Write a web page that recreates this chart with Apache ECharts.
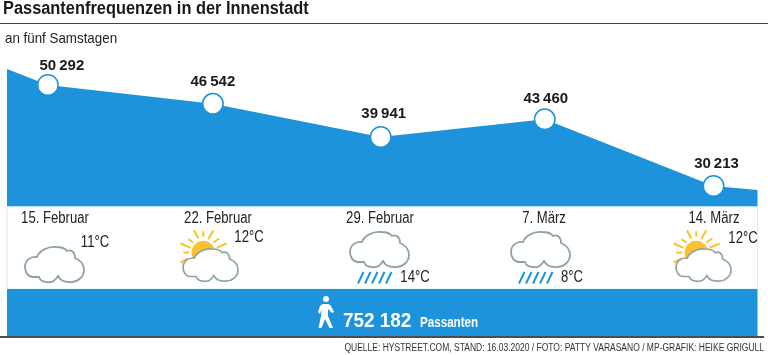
<!DOCTYPE html>
<html>
<head>
<meta charset="utf-8">
<style>
html, body { margin: 0; padding: 0; background: #fff; }
#show { width: 768px; height: 355px; }
</style>
<script src="https://cdn.jsdelivr.net/npm/echarts@6/dist/echarts.min.js"></script>
</head>
<body>
<div id="show"></div>
<script>
var myChart = echarts.init(document.getElementById("show"));

// days since 15 Feb; first and last are the cut-off edges
var days = [-1.72, 0, 6.94, 14, 20.9, 28, 29.85];
var visitors = [53470, 50292, 46542, 39941, 43460, 30213, 29420];
var dates = ["15. Februar", "22. Februar", "29. Februar", "7. März", "14. März"];
var temps = ["11°C", "12°C", "14°C", "8°C", "12°C"];
var weather = ["cloud", "sun", "rain", "rain", "sun"];
var total = "752 182";

var font = "'Liberation Sans', sans-serif";
var blue = "#1c93da";
var cloudGrey = "#8fa3a3";
var yellow = "#fdc12d";

var labelShift = [null, [14, 4], [0, 2], [3, 0], [1, 3], [3, 1], null];
var datePos = [55, 218, 380, 544, 714];
var cloudPos = [[25, 247, 59, 36], [183, 249, 55, 33], [350, 232, 59, 36], [511, 232, 59, 36], [676, 249, 55, 33]];
var tempPos = [[95, 243], [249, 238], [415, 278], [572, 278], [743, 239]];

var cloudPath = "M8 30C3 30 0 25 0 20C0 14 5 9 12 10C14 4 23 -1 31 0C36 0 40 1 42 4C46 2 50 5 50 11C55 13 59 17 59 23C59 30 52 36 44 35C39 35 35 33 33 29C30 34 26 36 22 35C18 35 15 33 14 30C12 30 10 30 8 30Z";
var walkerPath = "M5 8L10 8C11 8 12 9 13 10L16 16L14 17L10 13L10 20L15 32L11.5 32L7 23L3.5 32L0.5 32L3 20L3.5 13L2 18L0 16L2 10C3 9 4 8 5 8Z";
var sunRays = [[-9.3, -22.3, -5, -14], [0, -21.3, 0, -15.7], [10, -22.3, 5, -13.3], [16, -14, 10, -10], [23.3, -9, 13.3, -4.7],
    [-22.7, -9, -12.7, -4.7], [-15, -13.3, -10, -10], [-20, 0, -14, 0], [-22.7, 10, -15, 6]];

echarts.graphic.registerShape("cloud", echarts.graphic.extendPath(cloudPath, {}));
echarts.graphic.registerShape("walker", echarts.graphic.extendPath(walkerPath, {}));

function text(str, x, y, size, color, weight, align, squeeze) {
    return {
        type: "text", z: 10, x: x, y: y, scaleX: squeeze || 0.82,
        style: {
            text: str, x: 0, y: 0, fill: color, font: (weight || "normal") + " " + size + "px " + font,
            textAlign: align || "left", textVerticalAlign: "middle"
        }
    };
}

var shapes = [
    { type: "rect", z: 1, shape: { x: 7, y: 206, width: 750.5, height: 83 }, style: { fill: "#fff", stroke: "#dcebf6", lineWidth: 1 } },
    { type: "rect", z: 2, shape: { x: 7, y: 289, width: 750.5, height: 47 }, style: { fill: blue } },
    { type: "line", z: 3, shape: { x1: 0, y1: 23.5, x2: 768, y2: 23.5 }, style: { stroke: "#444", lineWidth: 1 } },
    { type: "line", z: 3, shape: { x1: 0, y1: 337, x2: 764, y2: 337 }, style: { stroke: "#111", lineWidth: 1.5 } },
    text("Passantenfrequenzen in der Innenstadt", 3, 9, 18, "#1a1a1a", "bold", "left", 0.91),
    text("an fünf Samstagen", 5, 39, 15, "#222", "normal", "left", 0.89),
    { type: "circle", z: 10, shape: { cx: 326, cy: 299, r: 3 }, style: { fill: "#fff" } },
    { type: "walker", z: 10, x: 318, y: 296, style: { fill: "#fff" } },
    text(total, 343, 321, 21, "#fff", "bold", "left", 0.9),
    text("Passanten", 420, 323, 14, "#fff", "bold", "left", 0.83),
    text("QUELLE: HYSTREET.COM, STAND: 16.03.2020 / FOTO: PATTY VARASANO / MP-GRAFIK: HEIKE GRIGULL", 764, 348, 10, "#333", "normal", "right", 0.85)
];

dates.forEach(function (d, i) {
    var c = cloudPos[i];
    shapes.push(text(d, datePos[i], 219, 16, "#222", "normal", "center"));
    shapes.push(text(temps[i], tempPos[i][0], tempPos[i][1], 16, "#222", "normal", "center"));
    if (weather[i] === "sun") {
        var cx = c[0] + 20.3, cy = c[1] + 3.5;
        shapes.push({ type: "circle", z: 4, shape: { cx: cx, cy: cy, r: 11.7 }, style: { fill: yellow } });
        sunRays.forEach(function (r) {
            shapes.push({ type: "line", z: 4, shape: { x1: cx + r[0], y1: cy + r[1], x2: cx + r[2], y2: cy + r[3] }, style: { stroke: yellow, lineWidth: 2 } });
        });
    }
    if (weather[i] === "rain") {
        for (var k = 0; k < 5; k++) {
            var rx = c[0] + 8 + k * 7;
            shapes.push({ type: "line", z: 4, shape: { x1: rx, y1: 283.5, x2: rx + 5.5, y2: 272 }, style: { stroke: blue, lineWidth: 2 } });
        }
    }
    shapes.push({
        type: "cloud", z: 5, x: c[0], y: c[1], scaleX: c[2] / 59, scaleY: c[3] / 36,
        style: { fill: "#fff", stroke: cloudGrey, lineWidth: 1.8 }
    });
});

var points = days.map(function (d, i) {
    var item = { value: [d, visitors[i]] };
    if (!labelShift[i]) {
        item.symbol = "none";
        item.label = { show: false };
    } else {
        item.label = { offset: labelShift[i] };
    }
    return item;
});

myChart.setOption({
    animation: false,
    grid: { left: 7, top: 69, width: 750.5, height: 137.5 },
    xAxis: { type: "value", min: -1.72, max: 29.85, show: false },
    yAxis: { type: "value", min: 26140, max: 53470, show: false },
    graphic: shapes,
    series: [
        {
            type: "line",
            data: points,
            showAllSymbol: true,
            symbol: "circle",
            symbolSize: 20.5,
            itemStyle: { color: "#fff", borderColor: blue, borderWidth: 1.5, opacity: 1 },
            lineStyle: { width: 0 },
            areaStyle: { color: blue, opacity: 1, origin: "start" },
            label: {
                show: true,
                position: "top",
                fontFamily: font,
                fontWeight: "bold",
                fontSize: 15,
                color: "#1a1a1a",
                formatter: function (p) {
                    return String(p.value[1]).replace(/(\d{3})$/, "\u2009$1");
                }
            }
        }
    ]
});
</script>
</body>
</html>
